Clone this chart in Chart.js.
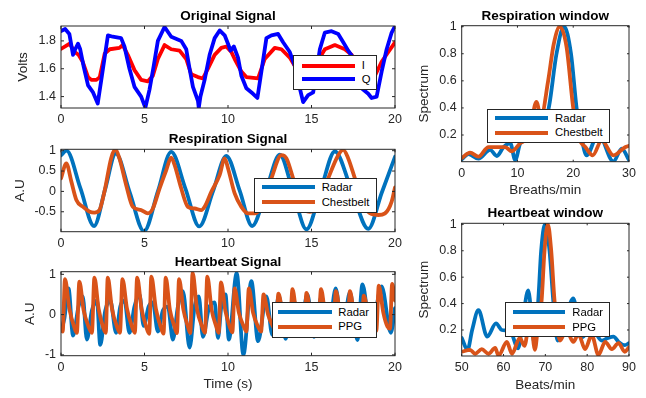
<!DOCTYPE html>
<html>
<head>
<meta charset="utf-8">
<script src="https://cdn.jsdelivr.net/npm/chart.js@4.4.2/dist/chart.umd.min.js"></script>
<style>
  body { margin: 0; background: #fff; }
  #wrap { position: relative; width: 646px; height: 398px; overflow: hidden; background: #fff; }
  #wrap canvas { position: absolute; left: 0; top: 0; }
  .leg { position: absolute; background: #fff; border: 1px solid #262626; box-sizing: border-box;
         font: 11.3px "Liberation Sans", Arial, sans-serif; color: #000; }
  .leg .ln { position: absolute; height: 4px; }
  .leg .tx { position: absolute; line-height: 14px; white-space: nowrap; }
</style>
</head>
<body>
<div id="wrap">
  <canvas id="c1" width="646" height="398"></canvas>
  <canvas id="c2" width="646" height="398"></canvas>
  <canvas id="c3" width="646" height="398"></canvas>
  <canvas id="c4" width="646" height="398"></canvas>
  <canvas id="c5" width="646" height="398"></canvas>
</div>
<script>
// ---------- data ----------
// Original signal (Volts vs seconds)
const iTime = [0,0.25,0.52,0.82,1.05,1.3,1.62,1.82,2.12,2.32,2.62,2.92,3.5,3.7,4.0,4.4,4.8,5.2,5.5,5.8,6.2,6.6,7.1,7.5,7.8,8.2,8.5,8.8,9.2,9.6,9.9,10.2,10.4,10.8,11.1,11.8,12.2,12.8,13.2,13.7,14.1,14.6,15.1,15.5,15.8,16.4,17.0,17.4,17.9,18.4,18.8,19.2,19.6,20];
const iVolts = [1.743,1.76,1.78,1.72,1.70,1.65,1.54,1.52,1.52,1.54,1.71,1.74,1.75,1.77,1.70,1.59,1.52,1.51,1.55,1.67,1.77,1.74,1.73,1.67,1.56,1.54,1.53,1.60,1.70,1.75,1.76,1.72,1.67,1.58,1.54,1.53,1.67,1.75,1.74,1.68,1.60,1.54,1.55,1.68,1.74,1.77,1.74,1.70,1.60,1.54,1.55,1.65,1.72,1.79];
const qTime = [0,0.25,0.5,0.72,0.85,1.02,1.15,1.35,1.62,1.92,2.2,2.45,2.81,3.1,3.6,3.8,4.1,4.4,4.8,5.05,5.3,5.55,5.8,6.2,6.6,7.2,7.5,7.7,7.9,8.2,8.25,8.35,8.6,8.9,9.2,9.5,9.8,10.0,10.15,10.35,10.6,10.8,11.1,11.5,11.76,12.0,12.3,12.6,13.0,13.3,13.7,14.0,14.3,14.5,14.8,15.1,15.3,15.5,15.8,16.2,16.6,16.9,17.2,17.6,17.8,18.0,18.4,18.6,18.9,19.2,19.5,19.8,20];
const qVolts = [1.87,1.885,1.85,1.70,1.74,1.78,1.74,1.62,1.48,1.43,1.35,1.55,1.84,1.83,1.82,1.76,1.60,1.47,1.40,1.32,1.45,1.62,1.80,1.90,1.83,1.80,1.74,1.60,1.47,1.37,1.32,1.40,1.52,1.70,1.82,1.875,1.84,1.78,1.73,1.76,1.68,1.55,1.46,1.42,1.39,1.58,1.82,1.84,1.85,1.79,1.72,1.62,1.46,1.36,1.41,1.43,1.58,1.74,1.86,1.87,1.85,1.79,1.73,1.66,1.55,1.46,1.42,1.39,1.40,1.58,1.74,1.86,1.905];

// Respiration signal (A.U vs seconds)
const respRadarTime = [0,0.33,1.16,1.98,2.64,3.28,4.12,4.97,5.8,6.6,7.45,8.28,9.1,9.9,10.7,11.45,12.28,13.1,13.9,14.7,15.55,16.4,17.4,18.4,19.2,20];
const respRadar = [0.89,1.0,0.08,-0.85,0.05,0.93,-0.03,-0.98,0.0,0.97,0.07,-0.86,0.0,0.87,0.02,-0.85,0.02,0.9,-0.01,-0.93,0.03,0.98,0.03,-0.92,-0.04,0.85];
const respBeltTime = [0,0.32,0.62,0.92,1.32,1.72,2.0,2.3,2.6,3.0,3.25,3.5,3.9,4.3,4.8,5.2,5.5,5.9,6.3,6.6,6.8,7.2,7.6,8.0,8.4,8.6,9.0,9.5,9.8,10.0,10.4,10.8,11.2,11.6,12.1,12.6,13.2,13.5,13.9,14.4,14.9,15.3,16.0,16.6,16.9,17.2,17.6,18.2,19.0,19.4,19.8,20];
const respBelt = [0.32,0.69,0.24,-0.21,-0.38,-0.5,-0.52,-0.46,-0.01,0.81,1.04,0.81,0.16,-0.38,-0.46,-0.54,-0.42,0.07,0.52,0.83,0.65,0.07,-0.38,-0.42,-0.46,-0.38,-0.01,0.4,0.81,0.57,-0.05,-0.38,-0.54,-0.54,-0.3,0.32,0.89,0.81,0.32,-0.35,-0.5,-0.45,0.32,0.89,1.02,0.81,0.32,-0.4,-0.58,-0.54,-0.25,0.1];

// Heartbeat signal (A.U vs seconds)
const heartRadarTime = [0,0.2,0.45,0.72,1.05,1.3,1.55,1.85,2.15,2.35,2.65,2.95,3.3,3.55,3.8,4.1,4.4,4.7,4.95,5.25,5.5,5.8,6.1,6.4,6.7,7.0,7.3,7.7,8.0,8.25,8.5,8.85,9.2,9.4,9.6,9.85,10.05,10.52,10.92,11.4,11.8,12.3,12.65,13.05,13.45,13.9,14.3,14.75,15.15,15.6,16.0,16.45,16.85,17.3,17.75,18.05,18.55,19.2,19.75,20];
const heartRadar = [-0.4,-0.1,0.65,-0.52,0.2,0.45,-0.62,0.1,0.35,-0.75,0.1,0.35,-0.45,0.2,0.35,-0.45,0.2,0.5,-0.28,0.2,0.3,-0.42,0.1,0.2,-0.62,0.2,0.58,-0.82,0.2,0.45,-0.55,0.15,0.3,-0.58,0.2,0.5,-0.62,1.03,-1.0,0.83,-0.66,0.45,-0.5,0.45,-0.6,0.4,-0.5,0.5,-0.55,0.45,-0.5,0.65,-0.45,0.55,-0.63,0.75,-0.45,0.7,-0.45,0.16];
const heartPpgTime = [0,0.1,0.24,0.5,0.8,0.95,1.1,1.35,1.65,1.85,2.0,2.25,2.55,2.68,2.8,3.05,3.35,3.53,3.68,3.95,4.25,4.42,4.56,4.82,5.1,5.28,5.41,5.68,5.98,6.14,6.27,6.52,6.8,6.94,7.07,7.33,7.6,7.74,7.88,8.14,8.45,8.62,8.76,9.02,9.3,9.44,9.58,9.84,10.1,10.26,10.4,10.65,10.95,11.1,11.25,11.5,11.8,11.98,12.13,12.4,12.7,12.86,13.02,13.28,13.55,13.7,13.86,14.1,14.4,14.55,14.7,14.95,15.25,15.4,15.57,15.82,16.12,16.3,16.46,16.72,17.0,17.15,17.3,17.55,17.85,18.0,18.13,18.4,18.7,18.88,19.03,19.3,19.55,19.7,19.83,20];
const heartPpg = [-0.35,-0.42,0.88,0.15,-0.32,-0.45,0.82,0.12,-0.3,-0.45,0.92,0.15,-0.35,-0.45,0.92,0.15,-0.3,-0.45,0.88,0.15,-0.3,-0.45,0.92,0.15,-0.3,-0.48,0.94,0.15,-0.32,-0.47,0.92,0.12,-0.3,-0.46,0.88,0.12,-0.3,-0.46,1.04,0.15,-0.3,-0.45,0.94,0.12,-0.3,-0.45,0.8,0.1,-0.3,-0.44,0.65,0.05,-0.3,-0.42,0.65,0.05,-0.3,-0.42,0.5,0.0,-0.3,-0.4,0.52,0.0,-0.28,-0.38,0.63,0.02,-0.28,-0.38,0.54,0.0,-0.28,-0.38,0.63,0.02,-0.28,-0.38,0.58,0.0,-0.28,-0.38,0.58,0.0,-0.28,-0.36,0.47,0.0,-0.3,-0.4,0.72,0.05,-0.3,-0.35,0.76,0.35];

// Respiration window spectrum (vs breaths/min)
const respBpmRadar = [0,1.2,3.0,5.1,6.3,7.5,8.7,9.6,10.5,12.0,13.2,14.5,15.7,17.0,18.35,19.6,20.6,21.4,22.4,24.5,27.2,28.7,30];
const respSpecRadar = [0.02,0.06,0.025,0.09,0.045,0.11,0.14,0.015,0.14,0.18,0.16,0.22,0.42,0.8,1.0,0.8,0.4,0.2,0.05,0.21,0.005,0.1,0.015];
const respBpmBelt = [0,1.5,3.0,4.8,6.3,7.8,9.0,10.5,11.5,12.5,13.4,14.2,15.5,16.5,17.6,18.8,20.0,21.0,22.2,23.5,25.1,27.2,29.3,30];
const respSpecBelt = [0.03,0.07,0.04,0.11,0.11,0.11,0.08,0.14,0.17,0.3,0.445,0.33,0.6,0.87,1.0,0.85,0.4,0.18,0.11,0.05,0.16,0.05,0.11,0.12];

// Heartbeat window spectrum (vs beats/min)
const heartBpmRadar = [50,51.4,52.5,54.0,56.1,58.2,59.6,61.6,63.5,64.7,65.9,67.4,68.3,69.0,69.9,71.0,71.9,72.9,74.5,76.7,78.5,80.0,81.1,83.5,85.0,86.3,87.5,89.0,90];
const heartSpecRadar = [0.14,0.05,0.2,0.35,0.15,0.25,0.2,0.19,0.06,0.3,0.5,0.1,0.42,0.8,1.0,0.8,0.42,0.12,0.25,0.44,0.14,0.18,0.21,0.12,0.14,0.15,0.11,0.085,0.1];
const heartBpmPpg = [50,52,53.2,54.8,56.4,58,58.8,60.8,62,63.9,65,66.4,67.5,68.3,69.1,69.8,70.6,71.4,72.2,73.5,75,76.7,77.9,79.5,81.1,82.7,84.3,85.9,87.5,89,90];
const heartSpecPpg = [0.035,0.05,0.02,0.055,0.02,0.065,0.005,0.11,0.02,0.14,0.08,0.3,0.05,0.25,0.42,0.8,1.0,0.8,0.42,0.12,0.2,0.11,0.17,0.055,0.16,0.01,0.11,0.055,0.1,0.035,0.07];

// tick labels
const timeTicks = [0, 5, 10, 15, 20];
const voltTicks = [1.4, 1.6, 1.8];
const respTicks = [-0.5, 0, 0.5, 1];
const heartTicks = [-1, 0, 1];
const specTicks = [0.2, 0.4, 0.6, 0.8, 1];
const breathTicks = [0, 10, 20, 30];
const beatTicks = [50, 60, 70, 80, 90];

// ---------- drawing ----------
const FONT = '"Liberation Sans", Arial, Helvetica, sans-serif';
const AXIS = '#262626';
const MBLUE = '#0072BD', MORANGE = '#D95319';

function pts(xs, ys) {
  if (xs.length !== ys.length) console.warn('length mismatch', xs.length, ys.length);
  return xs.map((x, i) => ({ x: x, y: ys[i] }));
}

// full box + inward ticks like matlab axes
const boxPlugin = {
  id: 'mbox',
  afterDatasetsDraw(chart, args, opts) {
    const { ctx, chartArea: a, scales } = chart;
    const tl = opts.len || 3;
    ctx.save();
    ctx.strokeStyle = AXIS;
    ctx.lineWidth = 1;
    ctx.beginPath();
    scales.x.ticks.forEach(t => {
      const px = scales.x.getPixelForValue(t.value);
      ctx.moveTo(px, a.bottom); ctx.lineTo(px, a.bottom - tl);
      ctx.moveTo(px, a.top); ctx.lineTo(px, a.top + tl);
    });
    scales.y.ticks.forEach(t => {
      const py = scales.y.getPixelForValue(t.value);
      ctx.moveTo(a.left, py); ctx.lineTo(a.left + tl, py);
      ctx.moveTo(a.right, py); ctx.lineTo(a.right - tl, py);
    });
    ctx.stroke();
    ctx.strokeRect(a.left, a.top, a.right - a.left, a.bottom - a.top);
    ctx.restore();
  }
};

function makePanel(id, o) {
  const yW = 50;
  const xH = o.xLabel ? 37 : 20;
  const tH = 20.7;
  const datasets = o.series.map(s => ({
    label: s.label,
    data: pts(s.x, s.y),
    borderColor: s.color,
    borderWidth: 3.8,
    pointRadius: 0,
    fill: false,
    order: s.order,
    tension: s.smooth ? 0 : 0,
    cubicInterpolationMode: s.smooth ? 'monotone' : 'default',
    borderJoinStyle: 'round',
    borderCapStyle: 'round'
  }));
  return new Chart(document.getElementById(id), {
    type: 'line',
    data: { datasets: datasets },
    plugins: [boxPlugin],
    options: {
      responsive: false,
      animation: false,
      layout: {
        padding: { left: o.area.l - yW, top: o.area.t - tH, right: 646 - o.area.r, bottom: 398 - o.area.b - xH }
      },
      plugins: {
        legend: { display: false },
        tooltip: { enabled: false },
        mbox: { len: o.tickLen },
        title: {
          display: true, text: o.title, fullSize: false, color: '#000',
          font: { family: FONT, size: 13.5, weight: 'bold', lineHeight: 1.2 },
          padding: { top: 3, bottom: 1.5 }
        }
      },
      scales: {
        x: {
          type: 'linear', min: o.xMin, max: o.xMax,
          grid: { display: false, drawTicks: false }, border: { display: false },
          afterBuildTicks: s => { s.ticks = o.xTicks.map(v => ({ value: v })); },
          afterFit: s => { s.height = xH; },
          ticks: { color: AXIS, padding: 4, maxRotation: 0, font: { family: FONT, size: 12.5 },
                   callback: v => String(v) },
          title: { display: !!o.xLabel, text: o.xLabel, color: AXIS,
                   font: { family: FONT, size: 13.5, lineHeight: 1.2 }, padding: { top: 0, bottom: 0 } }
        },
        y: {
          type: 'linear', min: o.yMin, max: o.yMax,
          grid: { display: false, drawTicks: false }, border: { display: false },
          afterBuildTicks: s => { s.ticks = o.yTicks.map(v => ({ value: v })); },
          afterFit: s => { s.width = yW; },
          ticks: { color: AXIS, padding: 5, font: { family: FONT, size: 12.5 },
                   callback: v => String(v) },
          title: { display: true, text: o.yLabel, color: AXIS,
                   font: { family: FONT, size: 13.5, lineHeight: 1.2 },
                   padding: { top: 41.9 - o.yGap, bottom: 0 } }
        }
      }
    }
  });
}

function makeLegend(l) {
  const box = document.createElement('div');
  box.className = 'leg';
  box.style.left = l.left + 'px'; box.style.top = l.top + 'px';
  box.style.width = l.width + 'px'; box.style.height = l.height + 'px';
  l.items.forEach((it, i) => {
    const y = l.rowY[i] - l.top - 1;
    const ln = document.createElement('div');
    ln.className = 'ln';
    ln.style.background = it.color;
    ln.style.left = (l.lineX0 - l.left - 1) + 'px';
    ln.style.width = (l.lineX1 - l.lineX0) + 'px';
    ln.style.top = (y - 2) + 'px';
    const tx = document.createElement('div');
    tx.className = 'tx';
    tx.textContent = it.label;
    tx.style.left = (l.textX - l.left - 1) + 'px';
    tx.style.top = (y - 7.5) + 'px';
    box.appendChild(ln); box.appendChild(tx);
  });
  document.getElementById('wrap').appendChild(box);
}

makePanel('c1', {
  area: { l: 61, t: 26, r: 395, b: 108 }, title: 'Original Signal', yLabel: 'Volts', yGap: 37.5, tickLen: 3,
  xMin: 0, xMax: 20, yMin: 1.318, yMax: 1.907, xTicks: timeTicks, yTicks: voltTicks,
  series: [
    { label: 'I', x: iTime, y: iVolts, color: '#FF0000', order: 2, smooth: false },
    { label: 'Q', x: qTime, y: qVolts, color: '#0000FF', order: 1, smooth: false }
  ]
});
makePanel('c2', {
  area: { l: 61, t: 149.3, r: 395, b: 231.7 }, title: 'Respiration Signal', yLabel: 'A.U', yGap: 41, tickLen: 3,
  xMin: 0, xMax: 20, yMin: -0.99, yMax: 1.034, xTicks: timeTicks, yTicks: respTicks,
  series: [
    { label: 'Radar', x: respRadarTime, y: respRadar, color: MBLUE, order: 2, smooth: true },
    { label: 'Chestbelt', x: respBeltTime, y: respBelt, color: MORANGE, order: 1, smooth: true }
  ]
});
makePanel('c3', {
  area: { l: 61, t: 271.7, r: 395, b: 355.7 }, title: 'Heartbeat Signal', yLabel: 'A.U', yGap: 31, tickLen: 3,
  xLabel: 'Time (s)',
  xMin: 0, xMax: 20, yMin: -1.02, yMax: 1.065, xTicks: timeTicks, yTicks: heartTicks,
  series: [
    { label: 'Radar', x: heartRadarTime, y: heartRadar, color: MBLUE, order: 2, smooth: true },
    { label: 'PPG', x: heartPpgTime, y: heartPpg, color: MORANGE, order: 1, smooth: true }
  ]
});
makePanel('c4', {
  area: { l: 461.7, t: 25.7, r: 629, b: 161.7 }, title: 'Respiration window', yLabel: 'Spectrum', yGap: 37.3, tickLen: 2,
  xLabel: 'Breaths/min',
  xMin: 0, xMax: 30, yMin: 0.003, yMax: 1.007, xTicks: breathTicks, yTicks: specTicks,
  series: [
    { label: 'Radar', x: respBpmRadar, y: respSpecRadar, color: MBLUE, order: 2, smooth: true },
    { label: 'Chestbelt', x: respBpmBelt, y: respSpecBelt, color: MORANGE, order: 1, smooth: true }
  ]
});
makePanel('c5', {
  area: { l: 461.7, t: 223.3, r: 629, b: 356 }, title: 'Heartbeat window', yLabel: 'Spectrum', yGap: 37.3, tickLen: 2,
  xLabel: 'Beats/min',
  xMin: 50, xMax: 90, yMin: 0.003, yMax: 1.008, xTicks: beatTicks, yTicks: specTicks,
  series: [
    { label: 'Radar', x: heartBpmRadar, y: heartSpecRadar, color: MBLUE, order: 2, smooth: true },
    { label: 'PPG', x: heartBpmPpg, y: heartSpecPpg, color: MORANGE, order: 1, smooth: true }
  ]
});

// legends (boxes sit inside the axes like matlab's)
makeLegend({ left: 293, top: 55, width: 84, height: 35, lineX0: 301.7, lineX1: 355, textX: 361.7, rowY: [65.7, 79],
  items: [{ label: 'I', color: '#FF0000' }, { label: 'Q', color: '#0000FF' }] });
makeLegend({ left: 254, top: 178, width: 123, height: 35, lineX0: 261.7, lineX1: 315, textX: 321.7, rowY: [187.3, 202.3],
  items: [{ label: 'Radar', color: MBLUE }, { label: 'Chestbelt', color: MORANGE }] });
makeLegend({ left: 272, top: 302, width: 105, height: 36, lineX0: 278.3, lineX1: 331.7, textX: 338.3, rowY: [312.3, 326.7],
  items: [{ label: 'Radar', color: MBLUE }, { label: 'PPG', color: MORANGE }] });
makeLegend({ left: 487, top: 109, width: 123, height: 34, lineX0: 495, lineX1: 548.3, textX: 555, rowY: [118.3, 132.7],
  items: [{ label: 'Radar', color: MBLUE }, { label: 'Chestbelt', color: MORANGE }] });
makeLegend({ left: 505, top: 302, width: 105, height: 35, lineX0: 512.7, lineX1: 565, textX: 572.3, rowY: [312.3, 327.3],
  items: [{ label: 'Radar', color: MBLUE }, { label: 'PPG', color: MORANGE }] });
</script>
</body>
</html>
